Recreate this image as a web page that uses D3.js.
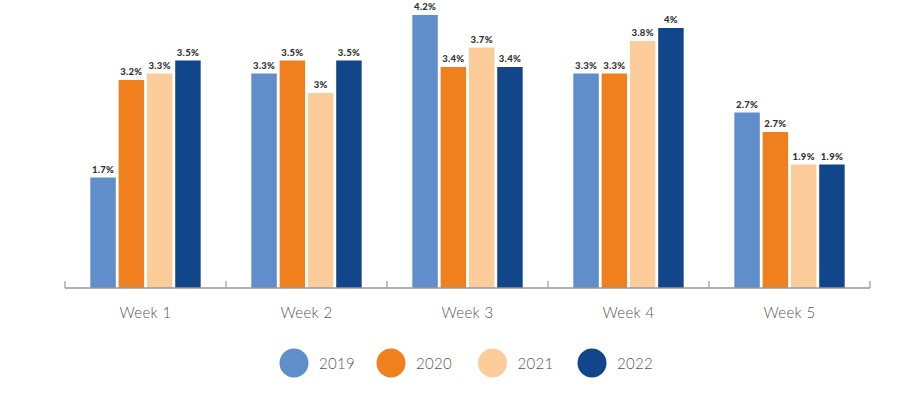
<!DOCTYPE html>
<html>
<head>
<meta charset="utf-8">
<script src="https://cdn.jsdelivr.net/npm/d3@7"></script>
<style>
  html, body { margin: 0; padding: 0; background: #fff; }
  svg { display: block; }
</style>
</head>
<body>
<svg id="chart" width="916" height="402"></svg>
<script>
const weeks = ["Week 1", "Week 2", "Week 3", "Week 4", "Week 5"];
const years = ["2019", "2020", "2021", "2022"];
const colors = ["#608ecb", "#f0801e", "#fccd9a", "#11468b"];
const values2019 = [1.7, 3.3, 4.2, 3.3, 2.7];
const values2020 = [3.2, 3.5, 3.4, 3.3, 2.4];
const values2021 = [3.3, 3.0, 3.7, 3.8, 1.9];
const values2022 = [3.5, 3.5, 3.4, 4.0, 1.9];
const labels2019 = ["1.7%", "3.3%", "4.2%", "3.3%", "2.7%"];
const labels2020 = ["3.2%", "3.5%", "3.4%", "3.3%", "2.7%"];
const labels2021 = ["3.3%", "3%", "3.7%", "3.8%", "1.9%"];
const labels2022 = ["3.5%", "3.5%", "3.4%", "4%", "1.9%"];

const seriesValues = [values2019, values2020, values2021, values2022];
const seriesLabels = [labels2019, labels2020, labels2021, labels2022];

const svg = d3.select("#chart");
const left = 65, right = 870, baseY = 288, topY = 15;

const x0 = d3.scaleBand().domain(weeks).range([left, right]).padding(0);
const x1 = d3.scaleBand().domain(years).range([0, x0.bandwidth()])
  .paddingInner(0.1).paddingOuter(0.895);
const y = d3.scaleLinear().domain([0, d3.max(seriesValues.flat())]).range([baseY, topY]);

const groups = svg.selectAll("g.grp").data(weeks).join("g")
  .attr("class", "grp")
  .attr("transform", d => `translate(${x0(d)},0)`);

years.forEach((yr, si) => {
  groups.append("rect")
    .attr("x", x1(yr))
    .attr("width", x1.bandwidth())
    .attr("y", (d, i) => y(seriesValues[si][i]))
    .attr("height", (d, i) => baseY - y(seriesValues[si][i]))
    .attr("fill", colors[si]);
  groups.append("text")
    .attr("x", x1(yr) + x1.bandwidth() / 2)
    .attr("y", (d, i) => y(seriesValues[si][i]) - 5)
    .attr("text-anchor", "middle")
    .attr("font-family", "Lato, 'Open Sans', sans-serif")
    .attr("font-weight", "900")
    .attr("font-size", 9.5)
    .attr("letter-spacing", 0.3)
    .attr("fill", "#333")
    .text((d, i) => seriesLabels[si][i]);
});

// axis
const ax = svg.append("g").attr("transform", `translate(0,${baseY})`);
ax.append("line").attr("x1", left).attr("x2", right).attr("y1", 0).attr("y2", 0)
  .attr("stroke", "#999").attr("stroke-width", 1.5);
const tickPos = weeks.map(w => x0(w)).concat([right]);
ax.selectAll("line.tk").data(tickPos).join("line").attr("class", "tk")
  .attr("x1", d => d).attr("x2", d => d).attr("y1", -7).attr("y2", 0)
  .attr("stroke", "#999").attr("stroke-width", 1.2);
ax.selectAll("text.wk").data(weeks).join("text").attr("class", "wk")
  .attr("x", d => x0(d) + x0.bandwidth() / 2)
  .attr("y", 30)
  .attr("text-anchor", "middle")
  .attr("font-family", "Lato, 'Open Sans', sans-serif")
  .attr("font-weight", "300")
  .attr("font-size", 15)
  .attr("letter-spacing", 0.3)
  .attr("fill", "#555")
  .text(d => d);

// legend
const legendX = [294, 391, 492.5, 592];
const lg = svg.selectAll("g.lg").data(years).join("g").attr("class", "lg")
  .attr("transform", (d, i) => `translate(${legendX[i]},363)`);
lg.append("circle").attr("r", 14.5).attr("fill", (d, i) => colors[i]);
lg.append("text").attr("x", 25).attr("y", 5.5)
  .attr("font-family", "Lato, 'Open Sans', sans-serif")
  .attr("font-weight", "300")
  .attr("font-size", 15)
  .attr("letter-spacing", 0.3)
  .attr("fill", "#555")
  .text(d => d);
</script>
</body>
</html>
